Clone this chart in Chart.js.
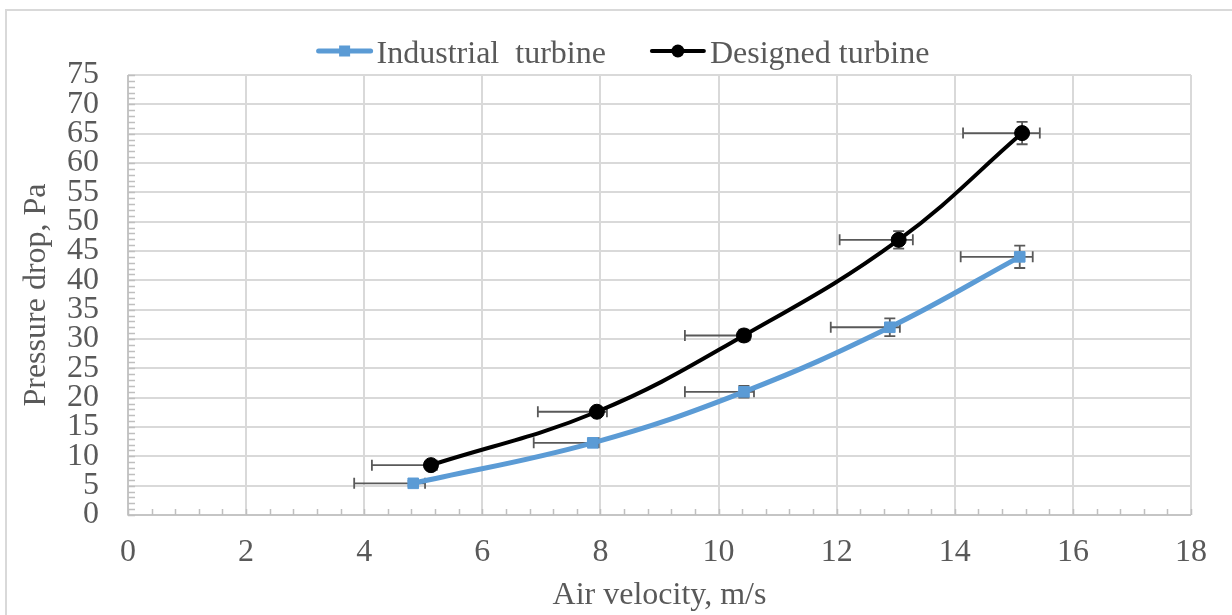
<!DOCTYPE html>
<html>
<head>
<meta charset="utf-8">
<script src="https://cdn.jsdelivr.net/npm/chart.js@4.4.0/dist/chart.umd.min.js"></script>
<style>
  html, body { margin: 0; padding: 0; background: #fff; }
  #wrap { position: relative; width: 1232px; height: 615px; }
  #frame { position: absolute; left: 5px; top: 9px; width: 1240px; height: 620px; border: 2px solid #D9D9D9; box-sizing: border-box; }
  canvas { position: absolute; left: 0; top: 0; }
</style>
</head>
<body>
<div id="wrap">
  <div id="frame"></div>
  <canvas id="chart" width="1232" height="615"></canvas>
</div>
<script>
// air velocity (m/s) and pressure drop (Pa)
const industrialX = [4.83, 7.87, 10.43, 12.90, 15.10];
const industrialY = [5.4, 12.3, 21.0, 32.0, 44.0];
const designedX = [5.13, 7.94, 10.43, 13.05, 15.14];
const designedY = [8.5, 17.6, 30.6, 46.9, 65.1];

// error bars (minus / plus along x, symmetric along y)
const industrialXErrMinus = [1.0, 1.0, 1.0, 1.0, 1.0];
const industrialXErrPlus = [0.2, 0.1, 0.17, 0.17, 0.22];
const industrialYErr = [0.4, 0.6, 1.0, 1.5, 1.9];
const designedXErrMinus = [1.0, 1.0, 1.0, 1.0, 1.0];
const designedXErrPlus = [0.1, 0.17, 0.1, 0.24, 0.3];
const designedYErr = [0.4, 0.6, 1.0, 1.5, 1.9];

const legendLabels = ["Industrial  turbine", "Designed turbine"];
const xTitle = "Air velocity, m/s";
const yTitle = "Pressure drop, Pa";

const FONT = "'Liberation Serif', 'Times New Roman', serif";
const FSIZE = 32;
const TEXT = "#595959";
const GRID = "#D9D9D9";
const BLUE = "#5B9BD5";

function toPoints(xs, ys) {
  return xs.map((x, i) => ({ x: x, y: ys[i] }));
}

const errors = [
  { minus: industrialXErrMinus, plus: industrialXErrPlus, y: industrialYErr },
  { minus: designedXErrMinus, plus: designedXErrPlus, y: designedYErr }
];

const errorBars = {
  id: "errorBars",
  beforeDatasetsDraw(chart) {
    const { ctx, scales: { x, y } } = chart;
    ctx.save();
    ctx.strokeStyle = "#595959";
    ctx.lineWidth = 1.8;
    chart.data.datasets.forEach((ds, d) => {
      const err = errors[d];
      ds.data.forEach((p, i) => {
        const px = x.getPixelForValue(p.x);
        const py = y.getPixelForValue(p.y);
        const x1 = x.getPixelForValue(p.x - err.minus[i]);
        const x2 = x.getPixelForValue(p.x + err.plus[i]);
        const y1 = y.getPixelForValue(p.y + err.y[i]);
        const y2 = y.getPixelForValue(p.y - err.y[i]);
        ctx.beginPath();
        ctx.moveTo(x1, py); ctx.lineTo(x2, py);
        ctx.moveTo(x1, py - 5.5); ctx.lineTo(x1, py + 5.5);
        ctx.moveTo(x2, py - 5.5); ctx.lineTo(x2, py + 5.5);
        ctx.moveTo(px, y1); ctx.lineTo(px, y2);
        ctx.moveTo(px - 5.5, y1); ctx.lineTo(px + 5.5, y1);
        ctx.moveTo(px - 5.5, y2); ctx.lineTo(px + 5.5, y2);
        ctx.stroke();
      });
    });
    ctx.restore();
  }
};

// minor tick marks inside the plot + custom legend
const extras = {
  id: "extras",
  afterDraw(chart) {
    const { ctx, scales: { x, y }, chartArea } = chart;
    ctx.save();
    ctx.strokeStyle = "#BFBFBF";
    ctx.lineWidth = 1.5;
    ctx.beginPath();
    for (let v = 0; v <= 18.001; v += 0.4) {
      const px = Math.round(x.getPixelForValue(v)) + 0.5;
      ctx.moveTo(px, chartArea.bottom);
      ctx.lineTo(px, chartArea.bottom - 6);
    }
    for (let v = 0; v <= 75; v += 1) {
      const py = Math.round(y.getPixelForValue(v)) + 0.5;
      ctx.moveTo(chartArea.left, py);
      ctx.lineTo(chartArea.left + 7, py);
    }
    ctx.moveTo(chartArea.left, chartArea.top);
    ctx.lineTo(chartArea.left, chartArea.bottom);
    ctx.lineTo(chartArea.right, chartArea.bottom);
    ctx.stroke();

    // legend
    ctx.font = FSIZE + "px " + FONT;
    ctx.textBaseline = "alphabetic";
    ctx.fillStyle = TEXT;
    const lineW = 56, gapText = 4, gapItem = 44, ly = 51;
    const widths = legendLabels.map(t => ctx.measureText(t).width);
    const total = widths.reduce((s, w) => s + lineW + gapText + w, 0) + gapItem;
    let lx = 623 - total / 2;
    chart.data.datasets.forEach((ds, i) => {
      ctx.strokeStyle = ds.borderColor;
      ctx.lineWidth = ds.borderWidth;
      ctx.lineCap = "round";
      ctx.beginPath();
      ctx.moveTo(lx + 2, ly);
      ctx.lineTo(lx + lineW - 2, ly);
      ctx.stroke();
      ctx.fillStyle = ds.pointBackgroundColor;
      const cx = lx + lineW / 2;
      if (ds.pointStyle === "rect") {
        ctx.fillRect(cx - 5.5, ly - 5.5, 11, 11);
      } else {
        ctx.beginPath();
        ctx.arc(cx, ly, 6.5, 0, Math.PI * 2);
        ctx.fill();
      }
      ctx.fillStyle = TEXT;
      ctx.fillText(legendLabels[i], lx + lineW + gapText, 63);
      lx += lineW + gapText + widths[i] + gapItem;
    });
    ctx.restore();
  }
};

const chart = new Chart(document.getElementById("chart").getContext("2d"), {
  type: "scatter",
  data: {
    datasets: [
      {
        label: legendLabels[0],
        data: toPoints(industrialX, industrialY),
        showLine: true,
        tension: 0.4,
        borderColor: BLUE,
        borderWidth: 5,
        pointStyle: "rect",
        pointRadius: 7.5,
        pointBackgroundColor: BLUE,
        pointBorderColor: BLUE,
        pointBorderWidth: 1
      },
      {
        label: legendLabels[1],
        data: toPoints(designedX, designedY),
        showLine: true,
        tension: 0.4,
        borderColor: "#000000",
        borderWidth: 4,
        pointStyle: "circle",
        pointRadius: 7.5,
        pointBackgroundColor: "#000000",
        pointBorderColor: "#000000",
        pointBorderWidth: 1
      }
    ]
  },
  options: {
    responsive: false,
    animation: false,
    layout: { padding: { left: 0, top: 75, right: 41, bottom: 0 } },
    plugins: { legend: { display: false }, tooltip: { enabled: false } },
    scales: {
      x: {
        type: "linear",
        min: 0,
        max: 18,
        afterFit(scale) { scale.height = 100; },
        ticks: { stepSize: 2, autoSkip: false, maxRotation: 0, padding: 18, color: TEXT, font: { family: FONT, size: FSIZE } },
        grid: { color: GRID, lineWidth: 2, drawTicks: false },
        border: { display: false },
        title: { display: true, text: xTitle, color: TEXT, padding: { top: 0, bottom: 0 }, font: { family: FONT, size: FSIZE } }
      },
      y: {
        type: "linear",
        min: 0,
        max: 75,
        afterFit(scale) { scale.width = 128; },
        ticks: { stepSize: 5, autoSkip: false, padding: 29, color: TEXT, font: { family: FONT, size: FSIZE } },
        grid: { color: GRID, lineWidth: 2, drawTicks: false },
        border: { display: false },
        title: { display: true, text: yTitle, color: TEXT, padding: { top: 17, bottom: 0 }, font: { family: FONT, size: FSIZE } }
      }
    }
  },
  plugins: [errorBars, extras]
});
</script>
</body>
</html>
